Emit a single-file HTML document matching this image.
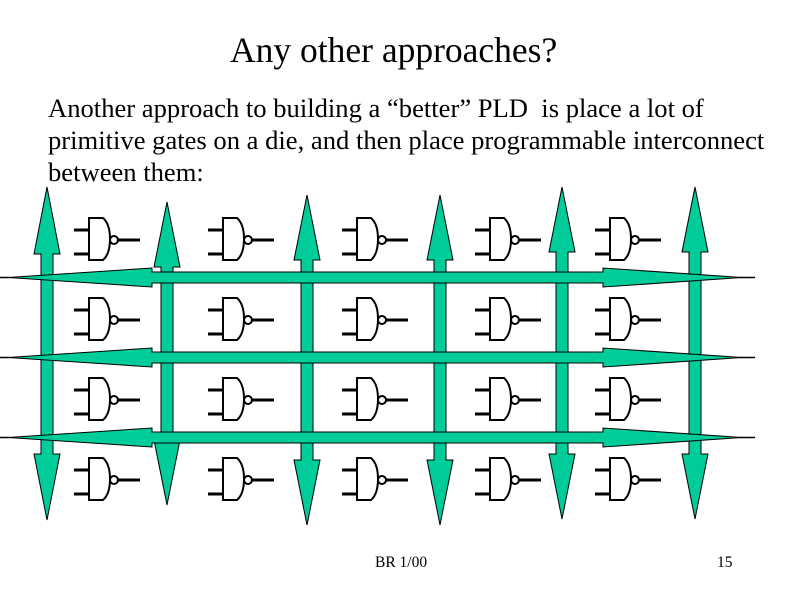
<!DOCTYPE html>
<html><head><style>
body{margin:0;width:800px;height:600px;background:#fff;overflow:hidden;position:relative;font-family:"Liberation Serif",serif}
.t{position:absolute;white-space:nowrap;color:#000}
</style></head><body>
<div class="t" style="left:230px;top:30px;font-size:35.5px;line-height:40px">Any other approaches?</div>
<div class="t" style="left:48px;top:92px;font-size:26.6px;line-height:32px">Another approach to building a “better” PLD&nbsp; is place a lot of<br>primitive gates on a die, and then place programmable interconnect<br>between them:</div>
<div class="t" style="left:375px;top:554px;font-size:15.5px">BR 1/00</div>
<div class="t" style="left:717px;top:554px;font-size:15.5px">15</div>
<svg width="800" height="600" style="position:absolute;left:0;top:0">
<defs>
<g id="g" fill="none" stroke="#000" stroke-width="2">
<line x1="0" y1="12" x2="15" y2="12" stroke-width="3"/>
<line x1="0" y1="36" x2="15" y2="36" stroke-width="3"/>
<path d="M15 0 H29 Q36 6 36 21 Q36 36 29 42 H15 Z"/>
<circle cx="40" cy="22" r="4"/>
<line x1="44" y1="22" x2="66" y2="22" stroke-width="3"/>
</g>
</defs>
<g>
<use href="#g" x="74" y="218"/><use href="#g" x="208" y="218"/><use href="#g" x="342" y="218"/><use href="#g" x="475" y="218"/><use href="#g" x="595" y="218"/>
<use href="#g" x="74" y="298"/><use href="#g" x="208" y="298"/><use href="#g" x="342" y="298"/><use href="#g" x="475" y="298"/><use href="#g" x="595" y="298"/>
<use href="#g" x="74" y="378"/><use href="#g" x="208" y="378"/><use href="#g" x="342" y="378"/><use href="#g" x="475" y="378"/><use href="#g" x="595" y="378"/>
<use href="#g" x="74" y="458"/><use href="#g" x="208" y="458"/><use href="#g" x="342" y="458"/><use href="#g" x="475" y="458"/><use href="#g" x="595" y="458"/>
</g>
<g fill="#00cc99" stroke="#000" stroke-width="1">
<path d="M47 187 L60 254 L53 254 L53 454 L60 454 L47 520 L34 454 L41 454 L41 254 L34 254 Z"/>
<path d="M167 202 L180 267 L173 267 L173 440 L180 440 L167 505 L154 440 L161 440 L161 267 L154 267 Z"/>
<path d="M307 195 L320 260 L313 260 L313 460 L320 460 L307 525 L294 460 L301 460 L301 260 L294 260 Z"/>
<path d="M440 195 L453 260 L446 260 L446 460 L453 460 L440 525 L427 460 L434 460 L434 260 L427 260 Z"/>
<path d="M562 187 L575 252 L568 252 L568 454 L575 454 L562 519 L549 454 L556 454 L556 252 L549 252 Z"/>
<path d="M695 187 L708 252 L701 252 L701 454 L708 454 L695 519 L682 454 L689 454 L689 252 L682 252 Z"/>
</g>
<g fill="#00cc99" stroke="#000" stroke-width="1">
<path d="M8 277.5 L152 268 L152 272 L603 272 L603 268 L742 277.5 L603 287 L603 283 L152 283 L152 287 Z"/>
<path d="M8 357.5 L152 348 L152 352 L603 352 L603 348 L742 357.5 L603 367 L603 363 L152 363 L152 367 Z"/>
<path d="M8 437.5 L152 428 L152 432 L603 432 L603 428 L742 437.5 L603 447 L603 443 L152 443 L152 447 Z"/>
</g>
<g stroke="#000" stroke-width="1.5">
<line x1="0" y1="277.5" x2="10" y2="277.5"/><line x1="740" y1="277.5" x2="755" y2="277.5"/>
<line x1="0" y1="357.5" x2="10" y2="357.5"/><line x1="740" y1="357.5" x2="755" y2="357.5"/>
<line x1="0" y1="437.5" x2="10" y2="437.5"/><line x1="740" y1="437.5" x2="755" y2="437.5"/>
</g>
</svg>
</body></html>
